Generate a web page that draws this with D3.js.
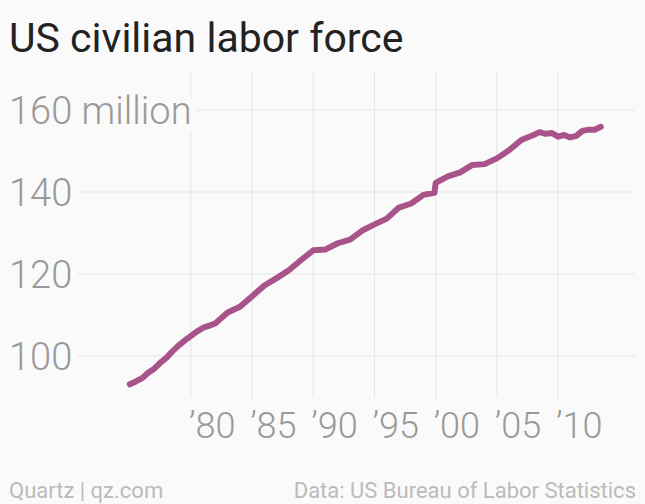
<!DOCTYPE html>
<html><head><meta charset="utf-8">
<script src="https://cdn.jsdelivr.net/npm/d3@7"></script>
<style>body{margin:0;background:#fafafa}svg{display:block}</style>
</head><body><svg id="c" width="645" height="504"></svg>
<script>
const years=[1975,1975.5,1976,1976.5,1977,1977.5,1978,1978.5,1979,1979.5,1980,1980.5,1981,1981.5,1982,1983,1984,1985,1986,1987,1988,1989,1990,1991,1992,1993,1994,1995,1996,1997,1998,1999,1999.9,2000,2001,2002,2003,2004,2005,2006,2007,2008,2008.5,2009,2009.5,2010,2010.5,2011,2011.5,2012,2012.5,2013,2013.5];
const values=[93.1,93.8,94.6,95.9,96.9,98.4,99.6,101.2,102.6,103.8,104.9,106.0,106.9,107.4,108.0,110.6,112.0,114.6,117.2,119.0,120.9,123.4,125.8,126.0,127.5,128.4,130.6,132.1,133.5,136.2,137.2,139.3,139.8,142.2,143.8,144.8,146.6,146.8,148.2,150.2,152.7,153.9,154.6,154.2,154.4,153.5,153.9,153.3,153.7,154.9,155.2,155.2,155.9];
const yTicks=[100,120,140,160];
const xTicks=[1980,1985,1990,1995,2000,2005,2010];
const svg=d3.select("#c"), bg="#fafafa";
svg.append("rect").attr("width",645).attr("height",504).attr("fill",bg);
const x=d3.scaleLinear().domain([1980,2010]).range([191,558]);
const y=d3.scaleLinear().domain([100,160]).range([356,110]);
const F="Roboto, 'Open Sans', sans-serif";
svg.selectAll(".v").data(xTicks).join("line").attr("x1",d=>x(d)).attr("x2",d=>x(d)).attr("y1",72).attr("y2",398).attr("stroke","#e6e6e6");
svg.selectAll(".h").data(yTicks).join("line").attr("x1",10).attr("x2",635).attr("y1",d=>y(d)).attr("y2",d=>y(d)).attr("stroke","#e6e6e6");
svg.selectAll(".yl").data(yTicks).join("text").attr("x",9).attr("y",d=>y(d)).attr("dy","0.36em")
 .attr("font-family",F).attr("font-weight",300).attr("font-size",38).attr("fill","#999").attr("stroke",bg).attr("stroke-width",14).attr("paint-order","stroke")
 .text(d=>d===160?"160 million":d);
svg.selectAll(".xl").data(xTicks).join("text").attr("x",d=>x(d)-2).attr("y",438).attr("text-anchor","start")
 .attr("font-family",F).attr("font-weight",300).attr("font-size",36).attr("fill","#999").text(d=>"\u2019"+String(d).slice(2));
svg.append("path").datum(years.map((d,i)=>[d,values[i]])).attr("fill","none").attr("stroke","#a8538a").attr("stroke-width",6).attr("stroke-linejoin","round").attr("stroke-linecap","round")
 .attr("d",d3.line().x(d=>x(d[0])).y(d=>y(d[1])));
svg.append("text").attr("x",9).attr("y",52).attr("font-family",F).attr("font-size",41).attr("fill","#222").text("US civilian labor force");
svg.append("text").attr("x",9).attr("y",498).attr("font-family",F).attr("font-size",22).attr("fill","#bbb").text("Quartz | qz.com");
svg.append("text").attr("x",636).attr("y",498).attr("text-anchor","end").attr("font-family",F).attr("font-size",22).attr("fill","#bbb").text("Data: US Bureau of Labor Statistics");
</script></body></html>
